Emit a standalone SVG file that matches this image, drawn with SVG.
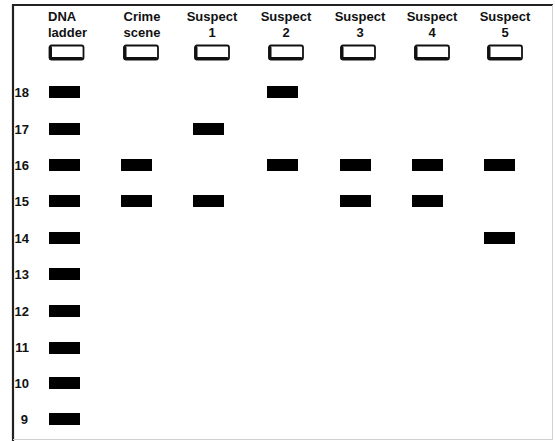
<svg xmlns="http://www.w3.org/2000/svg" width="555" height="441" viewBox="0 0 555 441">
<style>
.lbl{font-family:"Liberation Sans",Arial,sans-serif;font-weight:bold;font-size:13px;fill:#111;text-anchor:middle}
.num{font-family:"Liberation Sans",Arial,sans-serif;font-weight:bold;font-size:13px;fill:#111;text-anchor:end}
.band{fill:#000}
.well{fill:#fff;stroke:#111;stroke-width:1.8}
.sh{fill:none;stroke:#111;stroke-width:3;stroke-linecap:round;stroke-linejoin:round}
</style>
<defs>
<g id="well">
<rect class="well" x="0" y="0" width="34" height="14" rx="2"/>
<path class="sh" d="M1,2 V13 H32"/>
</g>
<rect id="b" class="band" width="31" height="12"/>
</defs>
<rect x="0" y="0" width="555" height="441" fill="#fff"/>
<g id="frame">
<line x1="12" y1="5" x2="553" y2="5" stroke="#222" stroke-width="2"/>
<line x1="13" y1="4" x2="13" y2="441" stroke="#222" stroke-width="2.2"/>
<line x1="552.5" y1="5" x2="552.5" y2="439.5" stroke="#d0d0d0" stroke-width="1"/>
<line x1="13" y1="439.5" x2="553" y2="439.5" stroke="#d0d0d0" stroke-width="1"/>
</g>
<g id="sizes">
<text class="num" x="29" y="97">18</text>
<text class="num" x="29" y="134">17</text>
<text class="num" x="29" y="170">16</text>
<text class="num" x="29" y="206">15</text>
<text class="num" x="29" y="243">14</text>
<text class="num" x="29" y="279">13</text>
<text class="num" x="29" y="316">12</text>
<text class="num" x="29" y="352">11</text>
<text class="num" x="29" y="388">10</text>
<text class="num" x="28" y="424">9</text>
</g>
<g id="lane-ladder">
<text class="lbl" x="48" y="21" style="text-anchor:start">DNA</text>
<text class="lbl" x="48" y="37" style="text-anchor:start">ladder</text>
<use href="#well" x="49.5" y="45.5"/>
<use href="#b" x="49" y="86"/>
<use href="#b" x="49" y="123"/>
<use href="#b" x="49" y="159"/>
<use href="#b" x="49" y="195"/>
<use href="#b" x="49" y="232"/>
<use href="#b" x="49" y="268"/>
<use href="#b" x="49" y="305"/>
<use href="#b" x="49" y="342"/>
<use href="#b" x="49" y="377"/>
<use href="#b" x="49" y="413"/>
</g>
<g id="lane-crime">
<text class="lbl" x="142" y="21">Crime</text>
<text class="lbl" x="142" y="37">scene</text>
<use href="#well" x="124" y="45.5"/>
<use href="#b" x="121" y="159"/>
<use href="#b" x="121" y="195"/>
</g>
<g id="lane-s1">
<text class="lbl" x="212" y="21">Suspect</text>
<text class="lbl" x="212" y="37">1</text>
<use href="#well" x="195" y="45.5"/>
<use href="#b" x="193" y="123"/>
<use href="#b" x="193" y="195"/>
</g>
<g id="lane-s2">
<text class="lbl" x="286" y="21">Suspect</text>
<text class="lbl" x="286" y="37">2</text>
<use href="#well" x="269" y="45.5"/>
<use href="#b" x="267" y="86"/>
<use href="#b" x="267" y="159"/>
</g>
<g id="lane-s3">
<text class="lbl" x="360" y="21">Suspect</text>
<text class="lbl" x="360" y="37">3</text>
<use href="#well" x="341" y="45.5"/>
<use href="#b" x="340" y="159"/>
<use href="#b" x="340" y="195"/>
</g>
<g id="lane-s4">
<text class="lbl" x="432" y="21">Suspect</text>
<text class="lbl" x="432" y="37">4</text>
<use href="#well" x="415" y="45.5"/>
<use href="#b" x="412" y="159"/>
<use href="#b" x="412" y="195"/>
</g>
<g id="lane-s5">
<text class="lbl" x="505" y="21">Suspect</text>
<text class="lbl" x="505" y="37">5</text>
<use href="#well" x="488" y="45.5"/>
<use href="#b" x="484" y="159"/>
<use href="#b" x="484" y="232"/>
</g>
</svg>
